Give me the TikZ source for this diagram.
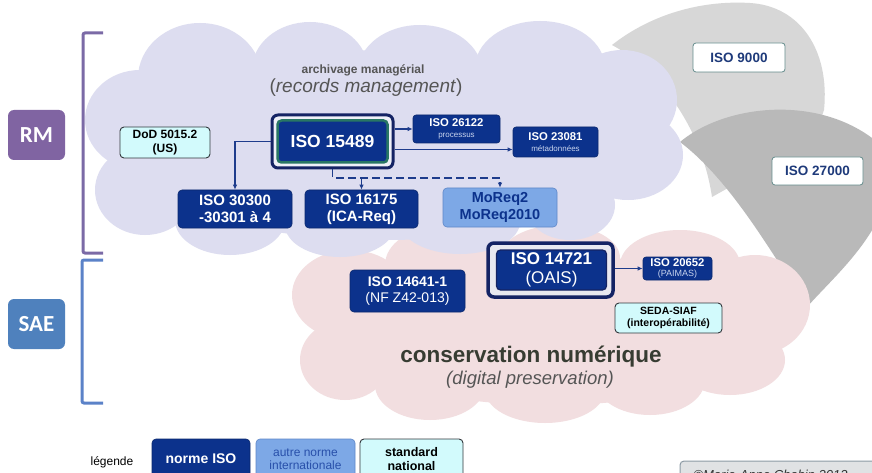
\documentclass[tikz,border=0pt]{standalone}
\usepackage{fontspec}
\setmainfont{Liberation Sans}
\newfontfamily\calibrifont{Carlito}
\usetikzlibrary{arrows.meta,calc}

\definecolor{navy}{RGB}{12,50,140}
\definecolor{navyedge}{RGB}{10,40,110}
\definecolor{navydark}{RGB}{20,35,100}
\definecolor{boxgreen}{RGB}{40,118,100}
\definecolor{midblue}{RGB}{125,168,230}
\definecolor{midblueedge}{RGB}{95,135,200}
\definecolor{intltext}{RGB}{40,80,170}
\definecolor{cyanlt}{RGB}{210,250,252}
\definecolor{natedge}{RGB}{50,55,60}
\definecolor{lavcloud}{RGB}{221,221,240}
\definecolor{pinkcloud}{RGB}{242,222,224}
\definecolor{greylight}{RGB}{215,215,215}
\definecolor{greydark}{RGB}{185,185,185}
\definecolor{bubbleedge}{RGB}{100,140,140}
\definecolor{bubbletext}{RGB}{30,58,122}
\definecolor{rmcol}{RGB}{128,100,162}
\definecolor{saecol}{RGB}{79,129,189}
\definecolor{rmbracket}{RGB}{123,106,166}
\definecolor{saebracket}{RGB}{91,130,200}
\definecolor{arrowcol}{RGB}{30,60,140}
\definecolor{subtxt}{RGB}{200,212,238}
\definecolor{titlegrey}{RGB}{85,85,85}
\definecolor{consgrey}{RGB}{55,60,50}
\definecolor{copyfill}{RGB}{224,226,228}
\definecolor{copyedge}{RGB}{140,154,165}

\newcommand\setfs[2]{\fontsize{#1}{#2}\selectfont}

\begin{document}
\begin{tikzpicture}[x=1pt,y=-1pt,
  isobox/.style={rectangle, rounded corners=3pt, fill=navy, draw=navyedge,
    line width=0.6pt, text=white, align=center, inner sep=0pt},
  intlbox/.style={rectangle, rounded corners=4pt, fill=midblue, draw=midblueedge,
    line width=0.6pt, text=navy, align=center, inner sep=0pt},
  natbox/.style={rectangle, rounded corners=4pt, fill=cyanlt, draw=natedge,
    line width=0.9pt, text=black, align=center, inner sep=0pt},
  bubblebox/.style={rectangle, rounded corners=3pt, fill=white, draw=bubbleedge,
    line width=0.8pt, text=bubbletext, align=center, inner sep=0pt},
  framebox/.style={rectangle, rounded corners=6pt, fill={rgb,255:red,238;green,240;blue,248},
    draw=navydark, line width=3pt, inner sep=0pt},
  tagbox/.style={rectangle, rounded corners=6pt, text=white, inner sep=0pt,
    minimum width=57pt, minimum height=50pt, font=\calibrifont\bfseries\setfs{23}{25}},
  conn/.style={draw=arrowcol, line width=1.1pt, -{Latex[length=5pt,width=4.5pt]}},
  dconn/.style={conn, dash pattern=on 8pt off 4pt},
  bracketline/.style={line width=3pt, rounded corners=2pt}
]
\useasboundingbox (0,0) rectangle (872,473);
\clip (0,0) rectangle (872,473);
\fill[white] (0,0) rectangle (872,473);

% grey callouts
\fill[greylight] (612,45) .. controls (650,15) and (700,0) .. (750,3)
  .. controls (800,6) and (830,50) .. (824,110) -- (815,135) -- (760,170) -- (712,197)
  .. controls (702,130) and (662,72) .. (612,45) -- cycle;
\fill[greydark] (680,142) .. controls (730,100) and (840,92) .. (895,160)
  .. controls (890,230) and (840,270) .. (807,307)
  .. controls (770,250) and (730,180) .. (680,142) -- cycle;

% digital preservation cloud
\begin{scope}[pinkcloud]
\fill (550,330) ellipse [x radius=230pt, y radius=75pt];
\fill (350,295) ellipse [x radius=58pt, y radius=45pt];
\fill (345,360) ellipse [x radius=45pt, y radius=40pt];
\fill (440,265) ellipse [x radius=55pt, y radius=38pt];
\fill (560,258) ellipse [x radius=60pt, y radius=33pt];
\fill (680,265) ellipse [x radius=60pt, y radius=35pt];
\fill (755,305) ellipse [x radius=55pt, y radius=50pt];
\fill (730,360) ellipse [x radius=55pt, y radius=35pt];
\fill (430,385) ellipse [x radius=55pt, y radius=35pt];
\fill (545,390) ellipse [x radius=60pt, y radius=33pt];
\fill (650,380) ellipse [x radius=55pt, y radius=35pt];
\end{scope}

% records management cloud
\begin{scope}[lavcloud]
\fill (385,145) ellipse [x radius=270pt, y radius=95pt];
\fill (200,78) ellipse [x radius=62pt, y radius=55pt];
\fill (310,70) ellipse [x radius=58pt, y radius=48pt];
\fill (420,72) ellipse [x radius=62pt, y radius=47pt];
\fill (540,68) ellipse [x radius=65pt, y radius=47pt];
\fill (622,100) ellipse [x radius=55pt, y radius=50pt];
\fill (628,155) ellipse [x radius=55pt, y radius=45pt];
\fill (140,120) ellipse [x radius=55pt, y radius=50pt];
\fill (145,190) ellipse [x radius=50pt, y radius=45pt];
\fill (230,220) ellipse [x radius=55pt, y radius=35pt];
\fill (340,225) ellipse [x radius=55pt, y radius=32pt];
\fill (460,222) ellipse [x radius=60pt, y radius=32pt];
\fill (570,205) ellipse [x radius=45pt, y radius=35pt];
\end{scope}

% side tags and brackets
\node[tagbox, fill=rmcol] (tagrm) at (36.5,135) {RM};
\node[tagbox, fill=saecol] (tagsae) at (36.5,324) {SAE};
\draw[bracketline, rmbracket] (103,33) -- (83,33) -- (83,253) -- (103,253);
\draw[bracketline, saebracket] (103,260) -- (82,260) -- (82,403) -- (103,403);

% cloud titles
\node[text=titlegrey, font=\bfseries\setfs{12}{14}] (rmtitle) at (363,70) {archivage managérial};
\node[text=titlegrey, font=\setfs{19}{22}] (rmsub) at (366,88) {(\textit{records management})};
\node[text=consgrey, font=\bfseries\setfs{22.5}{26}] (dptitle) at (531,357) {conservation numérique};
\node[text=titlegrey, font=\itshape\setfs{18.5}{22}] (dpsub) at (530,380) {(digital preservation)};

% records management standards
\node[framebox, minimum width=121pt, minimum height=53pt] (n15489o) at (332.5,141.5) {};
\node[isobox, rounded corners=4pt, draw=boxgreen, line width=2.5pt, minimum width=110pt,
  minimum height=42pt, font=\bfseries\setfs{17.5}{20}] (n15489) at (332.5,141.5) {ISO 15489};
\node[natbox, minimum width=90pt, minimum height=31pt, font=\bfseries\setfs{12}{13.5}]
  (ndod) at (165,142.5) {DoD 5015.2\\(US)};
\node[isobox, minimum width=87pt, minimum height=28pt, font=\bfseries\setfs{11.3}{12.5}]
  (n26122) at (456.5,129) {ISO 26122\\[-1pt]{\mdseries\setfs{8}{9}\color{subtxt}processus}};
\node[isobox, minimum width=85pt, minimum height=30pt, font=\bfseries\setfs{11.3}{12.5}]
  (n23081) at (555.5,142) {ISO 23081\\[-1pt]{\mdseries\setfs{8}{9}\color{subtxt}métadonnées}};
\node[isobox, rounded corners=4pt, minimum width=114pt, minimum height=38pt, font=\bfseries\setfs{15}{17}]
  (n30300) at (235,209) {ISO 30300\\-30301 à 4};
\node[isobox, rounded corners=4pt, minimum width=113pt, minimum height=38pt, font=\bfseries\setfs{15}{17}]
  (n16175) at (361.5,209) {ISO 16175\\(ICA-Req)};
\node[intlbox, minimum width=114pt, minimum height=39pt, font=\bfseries\setfs{14.5}{17}]
  (nmoreq) at (500,207.5) {MoReq2\\MoReq2010};

\draw[conn] (n15489o.west) -| (n30300.north);
\draw[conn] (n15489o.east |- n26122.west) -- (n26122.west);
\draw[conn] ([yshift=-8pt]n15489o.east) -- ([yshift=-8pt]n15489o.east -| n23081.west);
\coordinate (dj) at (332.5,178);
\draw[dconn] (n15489o.south) -- (dj) -| (nmoreq.north);
\draw[dconn] (dj -| n16175.north) -- (n16175.north);

% related management standards
\node[bubblebox, minimum width=92pt, minimum height=29pt, font=\bfseries\setfs{13.5}{15}]
  (n9000) at (739,57.5) {ISO 9000};
\node[bubblebox, minimum width=91pt, minimum height=28pt, font=\bfseries\setfs{13.5}{15}]
  (n27000) at (817.5,171) {ISO 27000};

% digital preservation standards
\node[isobox, rounded corners=4pt, minimum width=115pt, minimum height=42pt, font=\bfseries\setfs{14}{16}]
  (n14641) at (407.5,291) {ISO 14641-1\\{\mdseries(NF Z42-013)}};
\node[framebox, line width=3.5pt, fill={rgb,255:red,232;green,232;blue,240}, minimum width=125pt,
  minimum height=54pt] (n14721o) at (550.5,270) {};
\node[isobox, rounded corners=4pt, draw=navydark, line width=1.2pt, minimum width=110pt,
  minimum height=40pt, font=\bfseries\setfs{17}{19}] (n14721) at (551.5,270) {ISO 14721\\{\mdseries(OAIS)}};
\node[isobox, minimum width=69pt, minimum height=23pt, font=\bfseries\setfs{11.3}{11.5}]
  (n20652) at (677.5,268.5) {ISO 20652\\[-1pt]{\mdseries\setfs{9}{9.5}\color{subtxt}(PAIMAS)}};
\node[natbox, minimum width=107pt, minimum height=30pt, font=\bfseries\setfs{10.5}{12.5}]
  (nseda) at (668.5,318) {SEDA-SIAF\\(interopérabilité)};
\draw[conn] (n14721o.east |- n20652.west) -- (n20652.west);

% legend
\node[font=\setfs{12}{14}] (leglabel) at (112,462) {légende};
\node[isobox, rounded corners=4pt, minimum width=98pt, minimum height=40pt, font=\bfseries\setfs{14}{16}]
  (legiso) at (201,459) {norme ISO};
\node[intlbox, minimum width=99pt, minimum height=40pt, text=intltext, font=\setfs{12}{13}]
  (legintl) at (305.5,459) {autre norme\\internationale};
\node[natbox, minimum width=103pt, minimum height=40pt, font=\bfseries\setfs{12.5}{14}]
  (legnat) at (411.5,459) {standard\\national};

% copyright tag
\draw[fill=copyfill, draw=copyedge, line width=1pt, rounded corners=4pt] (680,461) rectangle (900,500);
\node[anchor=base west, text=black!80, font=\itshape\setfs{13}{15}] (copyright) at (690,479) {©Marie-Anne Chabin 2012};
\end{tikzpicture}
\end{document}
